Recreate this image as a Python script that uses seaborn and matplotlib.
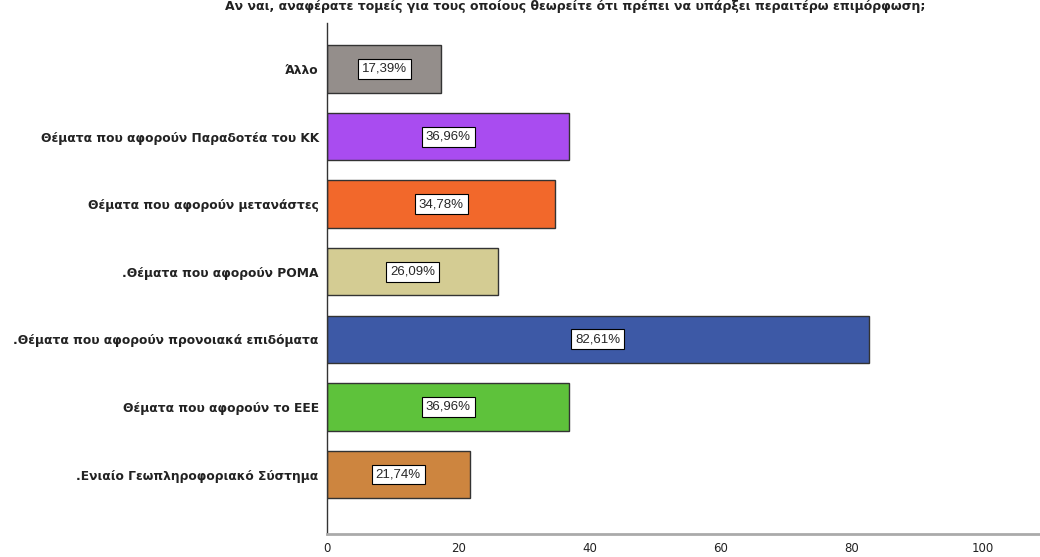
import pandas as pd
import matplotlib
matplotlib.use('Agg')
import matplotlib.pyplot as plt
import seaborn as sns

# categories (top to bottom) and percentages
categories = [
    'Άλλο',
    'Θέματα που αφορούν Παραδοτέα του ΚΚ',
    'Θέματα που αφορούν μετανάστες',
    '.Θέματα που αφορούν ΡΟΜΑ',
    '.Θέματα που αφορούν προνοιακά επιδόματα',
    'Θέματα που αφορούν το ΕΕΕ',
    '.Ενιαίο Γεωπληροφοριακό Σύστημα',
]
percents = [17.39, 36.96, 34.78, 26.09, 82.61, 36.96, 21.74]
bar_labels = ['17,39%', '36,96%', '34,78%', '26,09%', '82,61%', '36,96%', '21,74%']
bar_colors = ['#948e8b', '#a94cf0', '#f2682b', '#d4cc93', '#3d59a6', '#5ec23b', '#cd853f']
x_ticks = [0, 20, 40, 60, 80, 100]
title = ('Αν ναι, αναφέρατε τομείς για τους οποίους θεωρείτε ότι πρέπει '
         'να υπάρξει περαιτέρω επιμόρφωση;')

df = pd.DataFrame({'category': categories, 'percent': percents})

sns.set_style('white')
plt.rcParams['font.family'] = ['DejaVu Sans']

fig = plt.figure(figsize=(10.4, 5.57), dpi=100)
ax = fig.add_axes([327 / 1040, 23 / 557, 1 - 327 / 1040, 1 - 46 / 557])

sns.barplot(data=df, y='category', x='percent', hue='category',
            palette=bar_colors, saturation=1, orient='h', width=0.7, dodge=False,
            edgecolor='#333333', linewidth=1.0, legend=False, ax=ax)

for i, (val, lab) in enumerate(zip(percents, bar_labels)):
    ax.text(val / 2, i, lab, ha='center', va='center', fontsize=9.5,
            family=['Liberation Sans', 'DejaVu Sans'],
            bbox=dict(boxstyle='square,pad=0.3', fc='white', ec='black', lw=0.8))

ax.set_xlim(0, 713 / 6.56)
ax.set_ylim(6.88, -0.68)
ax.set_xticks(x_ticks)
ax.set_xticklabels([str(t) for t in x_ticks], fontsize=8.5, color='#222222')
ax.set_xlabel('')
ax.set_ylabel('')
ax.tick_params(axis='y', length=0, pad=6)
ax.tick_params(axis='x', length=0, pad=6)
for lbl in ax.get_yticklabels():
    lbl.set_fontsize(8.8)
    lbl.set_fontweight('bold')
    lbl.set_color('#222222')

sns.despine(ax=ax, top=True, right=True)
ax.spines['left'].set_color('#333333')
ax.spines['left'].set_linewidth(1.0)
ax.spines['bottom'].set_color('#aaaaaa')
ax.spines['bottom'].set_linewidth(2.0)

# title at the very top of the figure
fig.text(925 / 1040, 1.0, title, ha='right', va='top', fontsize=9,
         fontweight='bold', color='#222222')

fig.savefig('out.png', dpi=100)
